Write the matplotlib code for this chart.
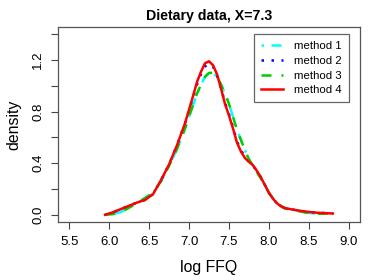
import matplotlib
matplotlib.use("Agg")
import matplotlib.pyplot as plt

plt.rcParams['font.family'] = ['Liberation Sans', 'DejaVu Sans']

x = [5.95, 6.05, 6.15, 6.25, 6.35, 6.45, 6.55, 6.65, 6.75, 6.85, 6.95, 7.05, 7.10, 7.15,
     7.20, 7.25, 7.30, 7.35, 7.40, 7.45, 7.50, 7.55, 7.60, 7.65, 7.70, 7.75, 7.80, 7.85,
     7.90, 7.95, 8.00, 8.05, 8.10, 8.15, 8.20, 8.30, 8.40, 8.50, 8.60, 8.70, 8.80]

method1 = [0.00, 0.006, 0.022, 0.057, 0.092, 0.13, 0.17, 0.26, 0.38, 0.51, 0.67, 0.85, 0.94, 1.01,
           1.07, 1.10, 1.10, 1.07, 1.01, 0.94, 0.86, 0.76, 0.66, 0.58, 0.50, 0.43, 0.38, 0.33,
           0.28, 0.23, 0.17, 0.13, 0.09, 0.07, 0.05, 0.037, 0.027, 0.014, 0.009, 0.009, 0.01]
method2 = [0.00, 0.02, 0.045, 0.07, 0.095, 0.115, 0.16, 0.27, 0.39, 0.54, 0.71, 0.91, 1.01, 1.09,
           1.15, 1.17, 1.15, 1.08, 0.98, 0.87, 0.78, 0.68, 0.57, 0.50, 0.45, 0.41, 0.38, 0.34,
           0.29, 0.23, 0.17, 0.125, 0.09, 0.066, 0.052, 0.04, 0.03, 0.022, 0.016, 0.013, 0.01]
method3 = [0.00, 0.005, 0.02, 0.055, 0.09, 0.13, 0.17, 0.26, 0.38, 0.51, 0.67, 0.85, 0.94, 1.01,
           1.07, 1.10, 1.10, 1.07, 1.01, 0.94, 0.86, 0.76, 0.66, 0.58, 0.50, 0.43, 0.38, 0.33,
           0.28, 0.23, 0.17, 0.13, 0.09, 0.07, 0.05, 0.035, 0.025, 0.012, 0.008, 0.008, 0.01]
method4 = [0.00, 0.02, 0.045, 0.07, 0.095, 0.115, 0.16, 0.27, 0.39, 0.54, 0.71, 0.92, 1.03, 1.11,
           1.175, 1.19, 1.16, 1.09, 0.98, 0.86, 0.77, 0.67, 0.56, 0.49, 0.44, 0.41, 0.385, 0.34,
           0.29, 0.23, 0.17, 0.125, 0.09, 0.065, 0.052, 0.04, 0.03, 0.022, 0.016, 0.013, 0.01]

labels = ["method 1", "method 2", "method 3", "method 4"]
xticks = [5.5, 6.0, 6.5, 7.0, 7.5, 8.0, 8.5, 9.0]
yticks = [0.0, 0.2, 0.4, 0.6, 0.8, 1.0, 1.2, 1.4]
ytick_labels = ["0.0", "", "0.4", "", "0.8", "", "1.2", ""]

fig = plt.figure(figsize=(3.74, 2.80), dpi=100)
ax = fig.add_axes([58/374, 1-222/280, 302/374, 195/280])

ax.plot(x, method1, color="#00FFFF", lw=1.8, dashes=(1, 3, 4, 3), label=labels[0])
ax.plot(x, method2, color="#0000FF", lw=1.8, dashes=(1, 3), label=labels[1])
ax.plot(x, method3, color="#00CD00", lw=1.8, dashes=(4, 4), label=labels[2])
ax.plot(x, method4, color="#FF0000", lw=1.8, label=labels[3])

ax.set_xlim(5.36, 9.14)
ax.set_ylim(-0.056, 1.456)
ax.set_xticks(xticks)
ax.set_xticklabels([f"{v:.1f}" for v in xticks], fontsize=9.5)
ax.set_yticks(yticks)
ax.set_yticklabels(ytick_labels, fontsize=9.5, rotation=90, va="center")
ax.tick_params(direction="out", length=5, width=0.8, color="#444444")
ax.tick_params(axis="x", pad=5)
ax.tick_params(axis="y", pad=5)
for s in ax.spines.values():
    s.set_color("#555555")
    s.set_linewidth(0.9)

ax.set_title("Dietary data, X=7.3", fontsize=10.2, fontweight="bold", pad=5)
ax.set_xlabel("log FFQ", fontsize=11.4, labelpad=9)
ax.set_ylabel("density", fontsize=11.4, labelpad=8)

leg = ax.legend(loc="upper right", bbox_to_anchor=(0.9636, 0.964), fontsize=8.2,
                frameon=True, fancybox=False, edgecolor="#666666", framealpha=1,
                handlelength=1.9, handletextpad=1.0, borderpad=0.65, labelspacing=0.4,
                borderaxespad=0)
leg.get_frame().set_linewidth(0.9)

fig.savefig("out.png", dpi=100)
